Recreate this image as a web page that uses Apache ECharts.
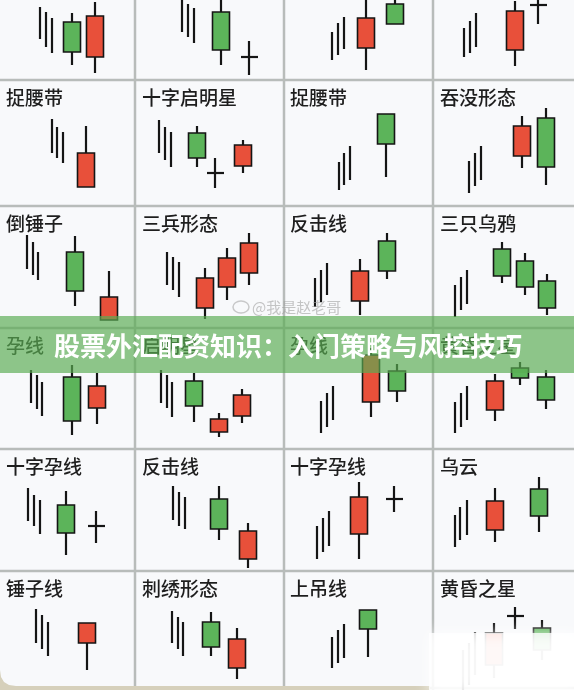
<!DOCTYPE html>
<html><head><meta charset="utf-8">
<script src="https://cdn.jsdelivr.net/npm/echarts@6/dist/echarts.min.js"></script>
<style>html,body{margin:0;padding:0;background:#f8f9fb}#c{width:574px;height:690px}</style>
</head><body><div id="c"></div>
<script>
// panel titles, row-major (6 rows x 4 cols); top row is cropped
const titles = ['', '', '', '',
  '捉腰带', '十字启明星', '捉腰带', '吞没形态',
  '倒锤子', '三兵形态', '反击线', '三只乌鸦',
  '孕线', '启明星', '孕线', '黄昏之星',
  '十字孕线', '反击线', '十字孕线', '乌云',
  '锤子线', '刺绣形态', '上吊线', '黄昏之星'];
// prior trend strokes per panel: [x, low, high]
const trendLines = [
  [[40,41,73],[46,33,68],[52,27,62]],
  [[47,48,82],[53,43,76],[59,37,72]],
  [[48,20,48],[54,25,57],[60,31,63]],
  [[31,23,52],[37,27,59],[43,33,67]],
  [[52,53,87],[57,48,79],[63,43,74]],
  [[24,53,86],[30,46,79],[36,39,74]],
  [[55,16,44],[60,21,53],[66,26,60]],
  [[36,13,45],[42,20,53],[48,26,60]],
  [[27,59,93],[33,53,86],[38,48,76]],
  [[32,43,76],[38,38,71],[44,31,66]],
  [[31,21,50],[37,26,58],[43,33,65]],
  [[22,11,43],[28,18,51],[34,24,58]],
  [[31,46,79],[37,40,74],[42,33,67]],
  [[26,46,79],[32,41,74],[37,32,67]],
  [[37,16,48],[43,22,56],[49,29,63]],
  [[22,16,47],[28,22,56],[34,29,63]],
  [[28,50,83],[34,45,76],[40,37,71]],
  [[38,51,85],[44,45,79],[50,42,74]],
  [[33,12,45],[39,19,53],[45,25,60]],
  [[22,24,56],[27,31,64],[34,36,71]],
  [[36,47,81],[42,41,75],[48,34,68]],
  [[37,47,79],[43,41,73],[48,34,68]],
  [[48,22,53],[54,27,60],[60,32,66]],
  [[30,0,40],[36,5,47],[42,15,58]]
];
// candles per panel: [x, open, close, low, high]
const candles = [
  [[72,58,28,15,67],[95,23,64,7,78]],
  [[86,68,30,15,86]],
  [[82,32,62,10,84],[111,76,56,56,86]],
  [[82,30,69,14,79]],
  [[86,19,53,19,80]],
  [[62,73,48,39,80],[108,40,61,33,66]],
  [[102,92,62,29,92]],
  [[89,50,80,38,90],[113,88,39,21,98]],
  [[75,76,37,22,92],[109,8,31,8,57]],
  [[70,20,50,9,60],[92,41,70,28,80],[114,55,85,43,95]],
  [[76,27,57,13,69],[103,87,57,49,95]],
  [[69,79,52,45,86],[92,67,41,33,75],[114,47,20,13,54]],
  [[72,72,28,14,84],[97,41,63,25,76]],
  [[59,68,43,27,76],[84,17,30,12,36],[107,33,54,26,60]],
  [[87,47,94,32,101],[113,78,58,47,85]],
  [[62,39,68,28,75],[87,81,71,64,87],[113,72,49,40,79]],
  [[66,66,38,16,80]],
  [[84,72,42,31,85],[113,12,40,3,48]],
  [[75,37,74,12,89]],
  [[62,41,70,29,83],[106,82,55,39,94]],
  [[87,47,67,20,67]],
  [[76,68,43,34,78],[102,22,51,11,62]],
  [[84,80,61,33,80]],
  [[61,25,57,12,67],[109,62,40,30,70]]
];
// doji crosses per panel: [x, price, low, high]
const dojis = [
  [], [[114,23,5,39]], [], [[105,75,56,84]],
  [], [[80,33,18,48]], [], [],
  [], [], [], [],
  [], [], [], [],
  [[96,45,28,60]], [], [[110,72,59,85]], [],
  [], [], [], [[82,74,61,83]]
];
const bannerText = '股票外汇配资知识：入门策略与风控技巧';
const watermark = '@我是赵老哥';

const colLeft = [0,135,284,433], colWidth = [135,149,149,141];
const rowTop = [0,80,206,328,449,571], rowH = [80,126,122,121,122,119];
const UP = '#e8503a', DOWN = '#5cb45a', INK = '#151515';

function renderItem(params, api) {
  const kind = api.value(0), x = api.value(1);
  if (kind === 0) {
    const a = api.coord([x, api.value(2)]), b = api.coord([x, api.value(3)]);
    return {type:'line', shape:{x1:a[0],y1:a[1],x2:b[0],y2:b[1]}, style:{stroke:INK, lineWidth:2.2}};
  }
  if (kind === 1) {
    const o = api.value(2), c = api.value(3), l = api.value(4), h = api.value(5);
    const top = api.coord([x, Math.max(o,c)]), bot = api.coord([x, Math.min(o,c)]);
    const lo = api.coord([x, l]), hi = api.coord([x, h]);
    const w = 17;
    return {type:'group', children:[
      {type:'line', shape:{x1:hi[0],y1:hi[1],x2:lo[0],y2:lo[1]}, style:{stroke:INK, lineWidth:2.2}},
      {type:'rect', shape:{x:top[0]-w/2, y:top[1], width:w, height:Math.max(1,bot[1]-top[1])},
        style:{fill: c > o ? UP : DOWN, stroke:INK, lineWidth:1.6}}
    ]};
  }
  const p = api.coord([x, api.value(2)]), lo = api.coord([x, api.value(3)]), hi = api.coord([x, api.value(4)]);
  return {type:'group', children:[
    {type:'line', shape:{x1:hi[0],y1:hi[1],x2:lo[0],y2:lo[1]}, style:{stroke:INK, lineWidth:2.2}},
    {type:'line', shape:{x1:p[0]-8,y1:p[1],x2:p[0]+9,y2:p[1]}, style:{stroke:INK, lineWidth:2.2}}
  ]};
}

const grid = [], xAxis = [], yAxis = [], series = [], title = [];
for (let i = 0; i < 24; i++) {
  const r = Math.floor(i/4), c = i % 4;
  grid.push({left: colLeft[c], top: rowTop[r], width: colWidth[c], height: rowH[r], containLabel:false});
  xAxis.push({gridIndex:i, type:'value', min:0, max:colWidth[c], show:false});
  yAxis.push({gridIndex:i, type:'value', min:0, max:rowH[r], show:false});
  const data = [];
  trendLines[i].forEach(d => data.push([0, d[0], d[1], d[2], 0, 0]));
  candles[i].forEach(d => data.push([1, d[0], d[1], d[2], d[3], d[4]]));
  dojis[i].forEach(d => data.push([2, d[0], d[1], d[2], d[3], 0]));
  series.push({type:'custom', coordinateSystem:'cartesian2d', xAxisIndex:i, yAxisIndex:i,
    renderItem, data, encode:{x:1, y:2}, silent:true, clip:false});
  if (titles[i]) title.push({text: titles[i], left: colLeft[c] + (c===0?6:c===1?7:c===2?6:7), top: rowTop[r] + 8, padding:0,
    textStyle:{fontFamily:'Noto Sans CJK SC', fontSize:19, fontWeight:500, color:'#1e1e1e'}});
}

const LINE = '#b8bcba';
const elements = [];
[80,206,328,449,571,688].forEach(y => elements.push({type:'line', z:1, shape:{x1:0,y1:y,x2:574,y2:y}, style:{stroke:LINE, lineWidth:2.5}}));
[135,284,433].forEach(x => elements.push({type:'line', z:1, shape:{x1:x,y1:0,x2:x,y2:690}, style:{stroke:LINE, lineWidth:2.5}}));
elements.push({type:'polygon', z:60, shape:{points:[[0,670],[1,677],[4,682],[9,685],[16,686],[430,686],[430,690],[0,690]]}, style:{fill:'#d6d0bb'}});
elements.push({type:'ellipse', z:50, shape:{cx:241, cy:307, rx:8, ry:6}, style:{fill:'none', stroke:'rgba(160,160,160,0.55)', lineWidth:1.5}});
elements.push({type:'text', z:50, x:252, y:307, style:{text: watermark, font:'15px "Noto Sans CJK SC"', fill:'rgba(160,160,160,0.6)', verticalAlign:'middle'}});
elements.push({type:'rect', z:100, shape:{x:0, y:316, width:574, height:57}, style:{fill:'rgba(90,172,82,0.68)'}});
elements.push({type:'text', z:101, x:54, y:346, style:{text: bannerText, font:'bold 26px "Noto Sans CJK SC"', fill:'#ffffff', verticalAlign:'middle'}});
elements.push({type:'rect', z:100, shape:{x:429, y:633, width:150, height:60}, style:{fill:'rgba(255,255,255,0.8)', shadowBlur:14, shadowColor:'rgba(255,255,255,1)'}});

const chart = echarts.init(document.getElementById('c'), null, {renderer:'canvas'});
chart.setOption({backgroundColor:'#f8f9fb', animation:false, title, grid, xAxis, yAxis, series, graphic:{elements}});
</script></body></html>
